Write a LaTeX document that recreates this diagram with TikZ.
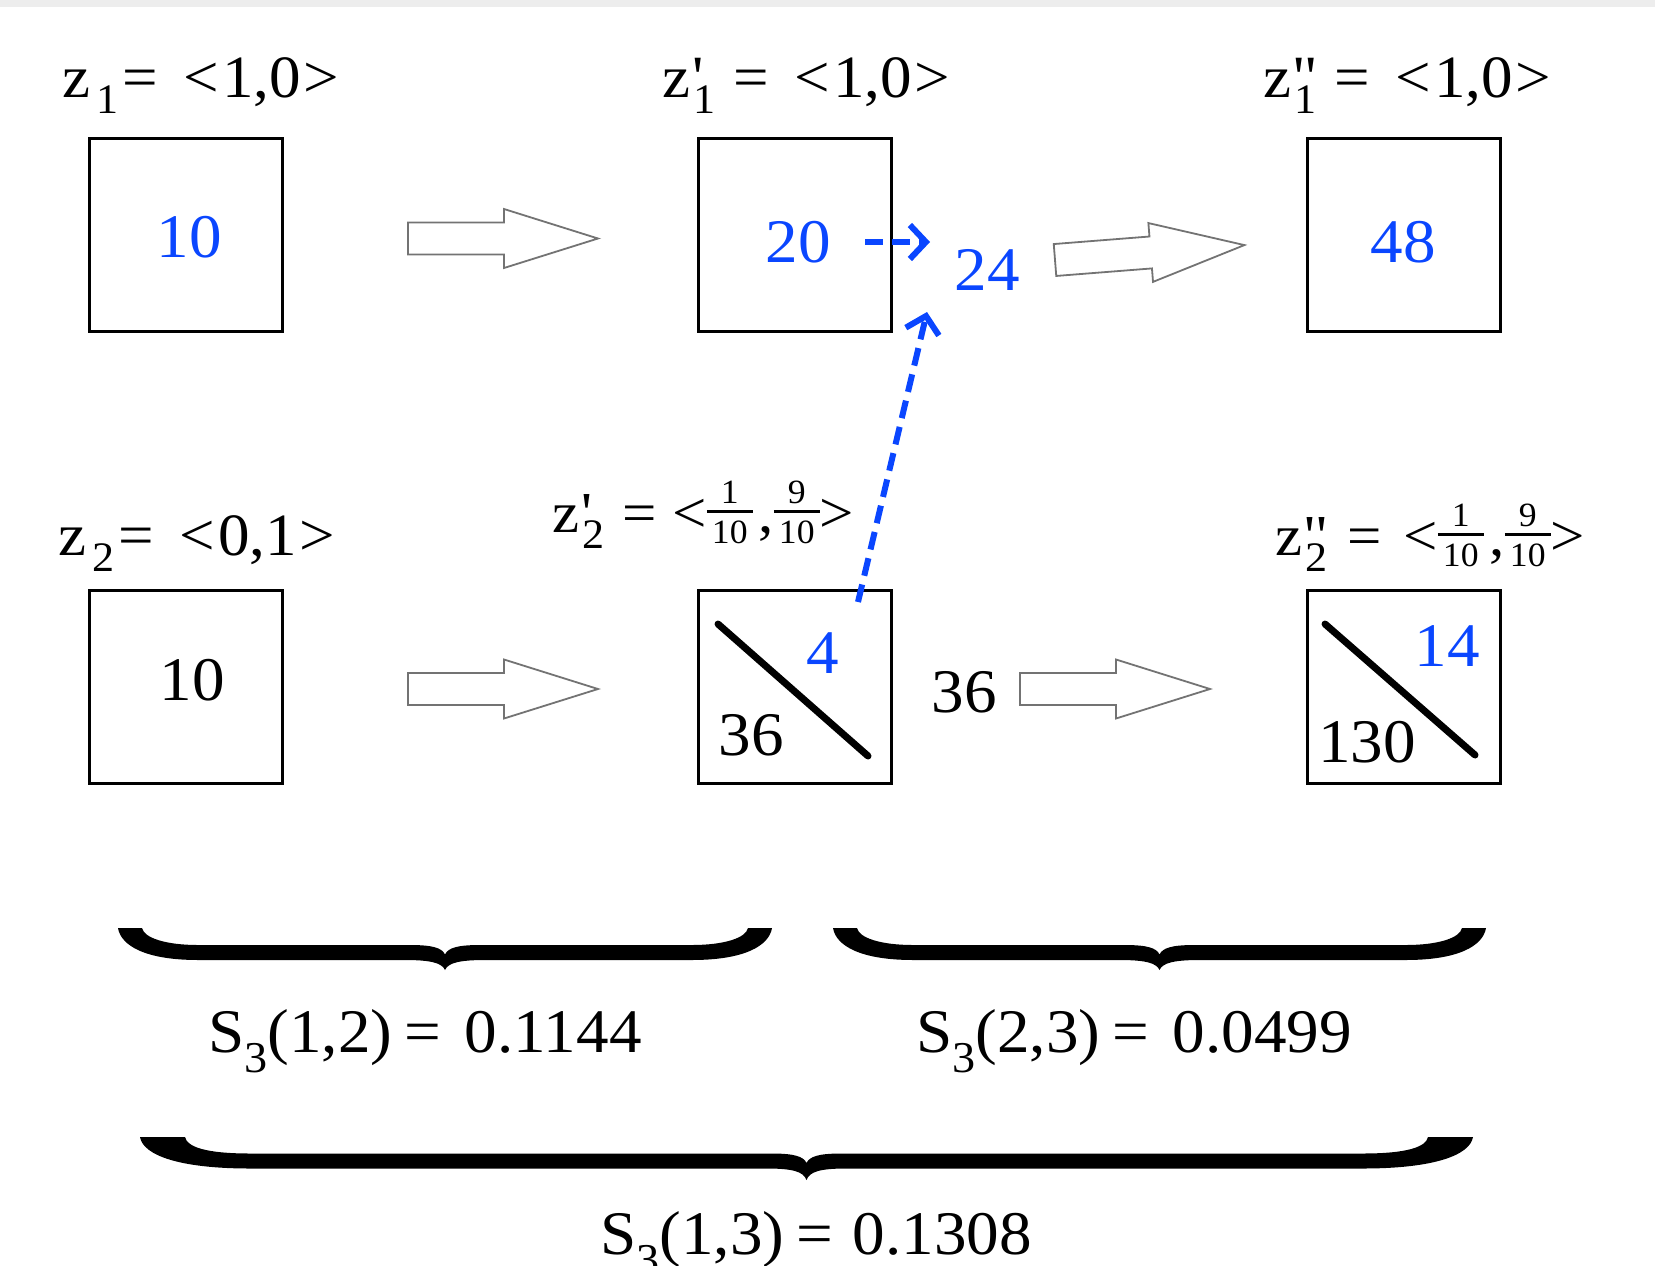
\documentclass[tikz,border=0pt]{standalone}
\usepackage{fontspec}
\newfontfamily\cf{Liberation Serif}[FakeStretch=1.05]
\usetikzlibrary{arrows.meta}
\definecolor{myblue}{RGB}{10,70,255}
\definecolor{agray}{RGB}{115,115,115}
\definecolor{band}{RGB}{237,237,237}
\newcommand\fsz[1]{\fontsize{#1}{#1}\selectfont}
\newcommand\lsub[1]{\raisebox{-16pt}{\fsz{42}#1}}
\newcommand\ssub[1]{\raisebox{-20pt}{\fsz{44}#1}}
\newcommand\lpr[1]{\rlap{\kern2pt#1}}
\newcommand\fr[2]{\raisebox{-11pt}{\vbox{\offinterlineskip\halign{\hfil\kern5pt##\kern5pt\hfil\cr\fsz{34}#1\cr\noalign{\kern7pt\hrule height 3pt\kern7pt}\fsz{34}#2\cr}}}}
\newcommand\blockarr[3]{\draw[blockarrow, shift={(#1,#2)}, rotate=#3] (0,-16) -- (96,-16) -- (96,-29.5) -- (190,0) -- (96,29.5) -- (96,16) -- (0,16) -- cycle;}
% x0, x1, ytop, ymid, ycusp, end width, end length, half thickness
\newcommand\mybrace[8]{%
 \pgfmathsetmacro\bxm{(#1+#2)/2}%
 \fill[black] (#1,#3) .. controls (#1+3,#3+18) and (#1+0.35*#7,#4+#8) .. (#1+#7,#4+#8)
   -- (\bxm-40,#4+#8) .. controls (\bxm-14,#4+#8) and (\bxm-3,#4+#8+3) .. (\bxm,#5)
   .. controls (\bxm+3,#4+#8+3) and (\bxm+14,#4+#8) .. (\bxm+40,#4+#8)
   -- (#2-#7,#4+#8) .. controls (#2-0.35*#7,#4+#8) and (#2-3,#3+18) .. (#2,#3)
   -- (#2-#6,#3) .. controls (#2-#6-2,#3+10) and (#2-0.6*#7,#4-#8) .. (#2-#7,#4-#8)
   -- (\bxm+35,#4-#8) .. controls (\bxm+12,#4-#8) and (\bxm+3,#4-#8+3) .. (\bxm,#4+2)
   .. controls (\bxm-3,#4-#8+3) and (\bxm-12,#4-#8) .. (\bxm-35,#4-#8)
   -- (#1+#7,#4-#8) .. controls (#1+0.6*#7,#4-#8) and (#1+#6+2,#3+10) .. (#1+#6,#3) -- cycle;}
\begin{document}
\begin{tikzpicture}[x=1pt,y=-1pt,
  box/.style={draw, line width=3pt, minimum size=193pt, inner sep=0pt},
  num/.style={font=\cf\fsz{62}, inner sep=0pt, anchor=base},
  lab/.style={font=\cf\fsz{60}, inner sep=0pt, anchor=base west},
  flab/.style={font=\cf\fsz{58}, inner sep=0pt, anchor=base west},
  slab/.style={font=\cf\fsz{62}, inner sep=0pt, anchor=base west},
  blockarrow/.style={draw=agray, line width=1.8pt, fill=white, line join=miter},
  dasharrow/.style={draw=myblue, line width=6pt, dash pattern=on 18pt off 9pt, -{Straight Barb[length=16pt,width=34pt]}},
  diag/.style={line width=7pt, line cap=round}]
\useasboundingbox (0,0) rectangle (1655,1266);
\fill[band] (0,0) rectangle (1655,7);

% boxes
\node[box] (b11) at (186.3,234.8) {};
\node[box] (b12) at (794.8,234.8) {};
\node[box] (b13) at (1404.4,234.8) {};
\node[box] (b21) at (186.3,686.5) {};
\node[box] (b22) at (794.8,686.5) {};
\node[box] (b23) at (1404.4,686.5) {};

% labels
\node[lab] (lz11) at (62,97) {z\kern6pt\lsub{1}\kern4pt=\kern26pt<\kern3pt1,0\kern3pt>};
\node[lab] (lz12) at (662,97) {z\lpr{'}\kern3pt\lsub{1}\kern18pt=\kern26pt<\kern3pt1,0\kern3pt>};
\node[lab] (lz13) at (1263,97) {z\lpr{'\kern1pt'}\kern3pt\lsub{1}\kern18pt=\kern26pt<\kern3pt1,0\kern3pt>};
\node[lab] (lz21) at (58,555) {z\kern6pt\lsub{2}\kern4pt=\kern26pt<\kern3pt0,1\kern3pt>};
\node[flab] (lz22) at (552,532) {z\lpr{'}\kern3pt\lsub{2}\kern18pt=\kern16pt<\fr{1}{10}\kern6pt,\fr{9}{10}>};
\node[flab] (lz23) at (1275,555) {z\lpr{'\kern1pt'}\kern3pt\lsub{2}\kern20pt=\kern22pt<\fr{1}{10}\kern6pt,\fr{9}{10}>};

% numbers
\node[num, text=myblue] (n11) at (189,257) {10};
\node[num, text=myblue] (n12) at (798.5,262) {20};
\node[num, text=myblue] (n24) at (987,290) {24};
\node[num, text=myblue] (n13) at (1403,262) {48};
\node[num] (n21) at (192,700) {10};
\node[num, text=myblue] (n22a) at (823,673) {4};
\node[num] (n22b) at (751,755) {36};
\node[num] (n36) at (964,712) {36};
\node[num, text=myblue] (n23a) at (1447,666) {14};
\node[num] (n23b) at (1367,762) {130};

% diagonals
\draw[diag] (718,624) -- (868,756);
\draw[diag] (1325,624) -- (1475,755);

% block arrows
\blockarr{408}{238.5}{0}
\blockarr{1055}{260}{4.5}
\blockarr{408}{689}{0}
\blockarr{1020}{689}{0}

% dashed arrows
\coordinate (d1s) at (865,242);
\coordinate (d1e) at (930,242);
\coordinate (d2s) at (858,602);
\coordinate (d2e) at (927,312);
\draw[dasharrow] (d1s) -- (d1e);
\draw[dasharrow] (d2s) -- (d2e);

% braces
\mybrace{118}{772}{928}{952.5}{970}{24}{80}{7.5}
\mybrace{833}{1486}{928}{952.5}{970}{24}{80}{7.5}
\mybrace{140}{1473}{1137}{1161}{1180}{45}{110}{7.5}

% bottom labels
\node[slab] (s12) at (208,1052) {S\ssub{3}(1,2)\kern12pt=\kern24pt0.1144};
\node[slab] (s23) at (916,1052) {S\ssub{3}(2,3)\kern12pt=\kern24pt0.0499};
\node[slab] (s13) at (600,1254) {S\ssub{3}(1,3)\kern12pt=\kern20pt0.1308};
\end{tikzpicture}
\end{document}
